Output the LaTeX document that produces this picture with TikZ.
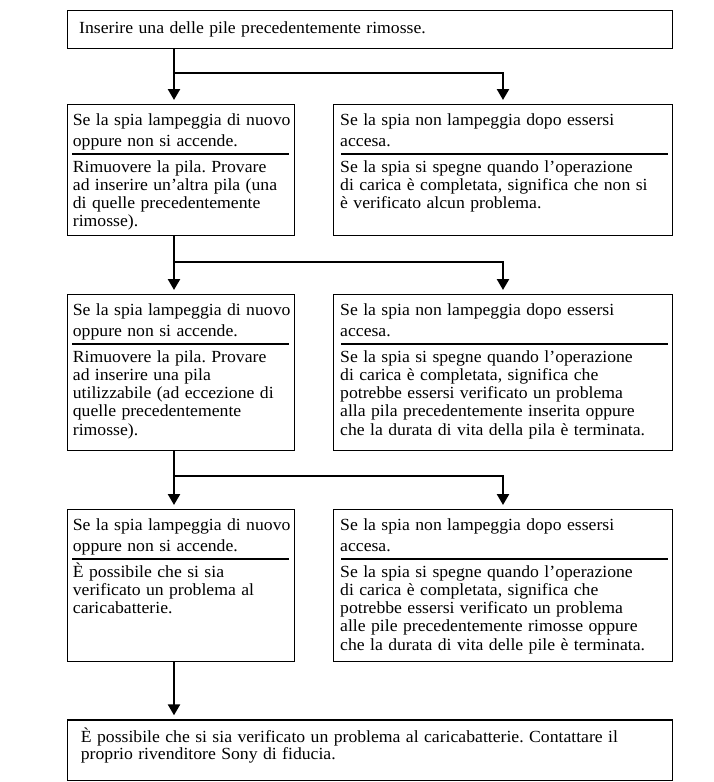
\documentclass[tikz,border=0pt]{standalone}
\usepackage{fontspec}
\setmainfont{Liberation Serif}[FakeStretch=1.04]
\usetikzlibrary{arrows.meta}
\newcommand\mystrut{\rule{0pt}{16pt}}
\newcommand\myspacing{\frenchspacing\spaceskip=5.4pt plus 1pt\relax}
\begin{document}
\begin{tikzpicture}[x=1pt,y=-1pt,
  box/.style={draw=black,line width=1.2pt,anchor=north west,inner sep=0pt},
  lbox/.style={box,minimum width=227.3pt},
  rbox/.style={box,minimum width=339pt},
  conn/.style={line width=2.4pt},
  arr/.style={conn,-{Triangle[width=12pt,length=11pt]},shorten >=4pt},
  sep/.style={line width=1.1pt},
  txt/.style={anchor=north west,inner sep=0pt,align=left,font=\fontsize{17}{18.2}\selectfont\myspacing},
  txta/.style={txt,font=\fontsize{17}{21}\selectfont\myspacing},
  txtf/.style={txt,font=\fontsize{17}{17.3}\selectfont\myspacing}]
\useasboundingbox (0,0) rectangle (714,782);
% boxes
\node[box,minimum width=605.3pt,minimum height=38pt] (top) at (66.7,9.5) {};
\node[lbox,minimum height=131pt] (r1l) at (66.7,104) {};
\node[rbox,minimum height=131pt] (r1r) at (333,104) {};
\node[lbox,minimum height=156pt] (r2l) at (66.7,294) {};
\node[rbox,minimum height=156pt] (r2r) at (333,294) {};
\node[lbox,minimum height=152pt] (r3l) at (66.7,509) {};
\node[rbox,minimum height=152pt] (r3r) at (333,509) {};
\node[box,minimum width=605.3pt,minimum height=60.5pt] (fin) at (66.7,719.3) {};
% texts
\node[txt] (t0) at ([shift={(12.3,7.5)}]top.north west) {\mystrut Inserire una delle pile precedentemente rimosse.};
\node[txta] (r1la) at ([shift={(6,5)}]r1l.north west) {\mystrut Se la spia lampeggia di nuovo\\oppure non si accende.};
\node[txt] (r1lb) at ([shift={(6,52)}]r1l.north west) {\mystrut Rimuovere la pila. Provare\\ad inserire un’altra pila (una\\di quelle precedentemente\\rimosse).};
\node[txta] (r1ra) at ([shift={(7,5)}]r1r.north west) {\mystrut Se la spia non lampeggia dopo essersi\\accesa.};
\node[txt] (r1rb) at ([shift={(7,52)}]r1r.north west) {\mystrut Se la spia si spegne quando l’operazione\\di carica è completata, significa che non si\\è verificato alcun problema.};
\node[txta] (r2la) at ([shift={(6,5)}]r2l.north west) {\mystrut Se la spia lampeggia di nuovo\\oppure non si accende.};
\node[txt] (r2lb) at ([shift={(6,52)}]r2l.north west) {\mystrut Rimuovere la pila. Provare\\ad inserire una pila\\utilizzabile (ad eccezione di\\quelle precedentemente\\rimosse).};
\node[txta] (r2ra) at ([shift={(7,5)}]r2r.north west) {\mystrut Se la spia non lampeggia dopo essersi\\accesa.};
\node[txt] (r2rb) at ([shift={(7,52)}]r2r.north west) {\mystrut Se la spia si spegne quando l’operazione\\di carica è completata, significa che\\potrebbe essersi verificato un problema\\alla pila precedentemente inserita oppure\\che la durata di vita della pila è terminata.};
\node[txta] (r3la) at ([shift={(6,5)}]r3l.north west) {\mystrut Se la spia lampeggia di nuovo\\oppure non si accende.};
\node[txt] (r3lb) at ([shift={(6,52)}]r3l.north west) {\mystrut È possibile che si sia\\verificato un problema al\\caricabatterie.};
\node[txta] (r3ra) at ([shift={(7,5)}]r3r.north west) {\mystrut Se la spia non lampeggia dopo essersi\\accesa.};
\node[txt] (r3rb) at ([shift={(7,52)}]r3r.north west) {\mystrut Se la spia si spegne quando l’operazione\\di carica è completata, significa che\\potrebbe essersi verificato un problema\\alle pile precedentemente rimosse oppure\\che la durata di vita delle pile è terminata.};
\node[txtf] (tf) at ([shift={(14,7)}]fin.north west) {\mystrut È possibile che si sia verificato un problema al caricabatterie. Contattare il\\proprio rivenditore Sony di fiducia.};
% separators
\foreach \b in {r1l,r2l,r3l}{
  \draw[sep] ([shift={(5.5,50)}]\b.north west) -- ([shift={(-6,50)}]\b.north east);}
\foreach \b in {r1r,r2r,r3r}{
  \draw[sep] ([shift={(8,50)}]\b.north west) -- ([shift={(-5,50)}]\b.north east);}
% connectors
\coordinate (j1) at (174,73);   \coordinate (k1) at (503,73);
\coordinate (j2) at (174,262);  \coordinate (k2) at (503,262);
\coordinate (j3) at (174,476);  \coordinate (k3) at (503,476);
\draw[arr] (top.south -| j1) -- (r1l.north -| j1);
\draw[arr] ([xshift=-1.2pt]j1) -- (k1) -- (r1r.north -| k1);
\draw[arr] (r1l.south -| j2) -- (r2l.north -| j2);
\draw[arr] ([xshift=-1.2pt]j2) -- (k2) -- (r2r.north -| k2);
\draw[arr] (r2l.south -| j3) -- (r3l.north -| j3);
\draw[arr] ([xshift=-1.2pt]j3) -- (k3) -- (r3r.north -| k3);
\draw[arr] (r3l.south -| j1) -- (fin.north -| j1);
\end{tikzpicture}
\end{document}
